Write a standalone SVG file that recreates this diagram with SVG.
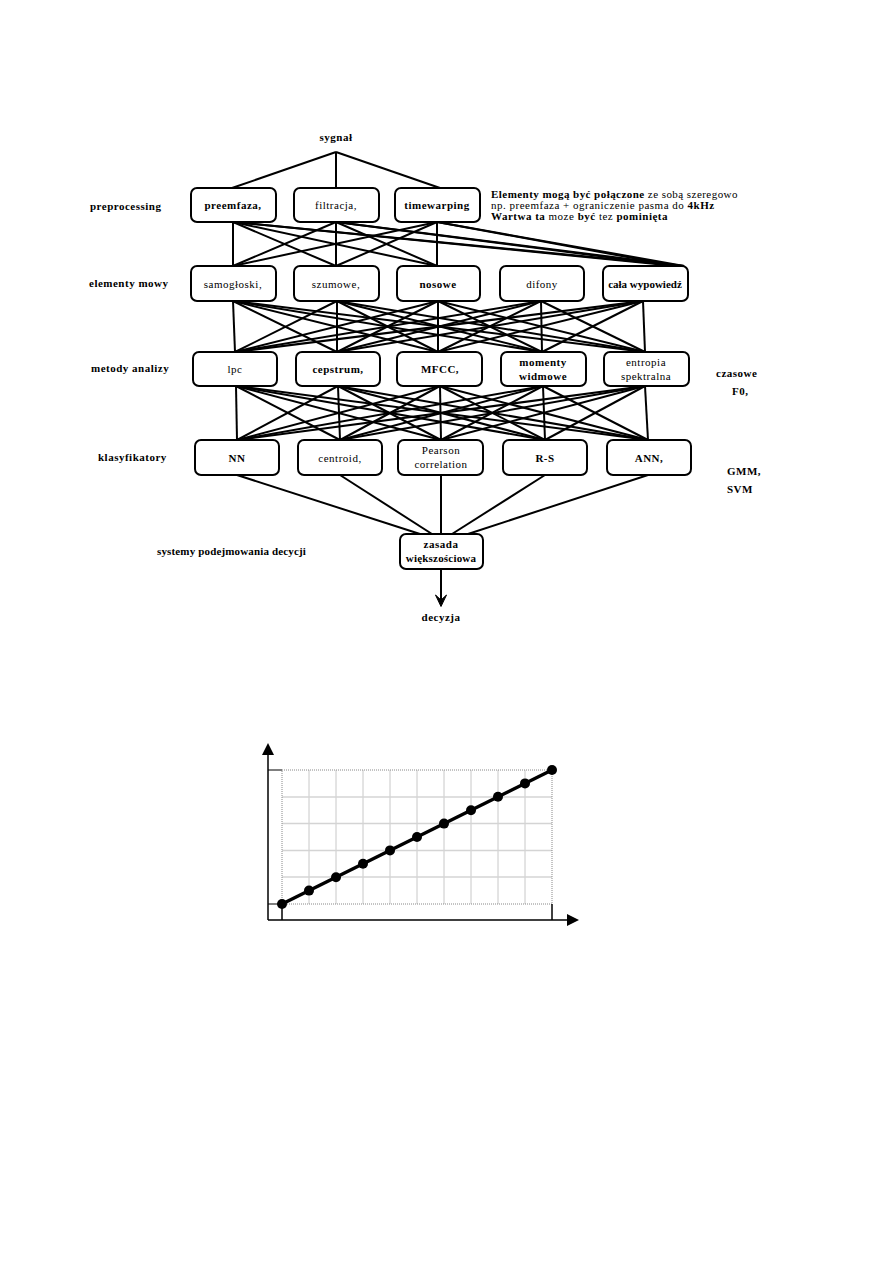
<svg xmlns="http://www.w3.org/2000/svg" width="893" height="1263" viewBox="0 0 893 1263">
<style>
text{font-family:"Liberation Serif","DejaVu Serif",serif;font-size:11px;fill:#000;letter-spacing:0.5px}
.b{font-weight:bold}
.c{text-anchor:middle}
.box{fill:#fff;stroke:#000;stroke-width:2}
.ln{stroke:#000;stroke-width:2;fill:none}
.grid{stroke:#c8c8c8;stroke-width:1}
.gridh{stroke:#d4d4d4;stroke-width:1.5}
</style>
<rect width="893" height="1263" fill="#fff"/>

<g id="connectors" class="ln">
<!-- signal hub -->
<line x1="336" y1="152" x2="232" y2="188"/>
<line x1="336" y1="152" x2="336" y2="188"/>
<line x1="336" y1="152" x2="440" y2="188"/>
<!-- preprocessing to elements -->
<line x1="233" y1="222" x2="233" y2="266"/>
<line x1="233" y1="222" x2="336" y2="266"/>
<line x1="233" y1="222" x2="437" y2="266"/>
<line x1="233" y1="222" x2="676" y2="266"/>
<line x1="233" y1="222" x2="684" y2="266"/>
<line x1="336" y1="222" x2="233" y2="266"/>
<line x1="336" y1="222" x2="336" y2="266"/>
<line x1="336" y1="222" x2="437" y2="266"/>
<line x1="336" y1="222" x2="676" y2="266"/>
<line x1="336" y1="222" x2="684" y2="266"/>
<line x1="437" y1="222" x2="233" y2="266"/>
<line x1="437" y1="222" x2="336" y2="266"/>
<line x1="437" y1="222" x2="437" y2="266"/>
<line x1="437" y1="222" x2="676" y2="266"/>
<line x1="437" y1="222" x2="684" y2="266"/>
<!-- elements to methods -->
<line x1="233" y1="301" x2="235" y2="352"/>
<line x1="233" y1="301" x2="337" y2="352"/>
<line x1="233" y1="301" x2="438" y2="352"/>
<line x1="233" y1="301" x2="542" y2="352"/>
<line x1="233" y1="301" x2="645" y2="352"/>
<line x1="337" y1="301" x2="235" y2="352"/>
<line x1="337" y1="301" x2="337" y2="352"/>
<line x1="337" y1="301" x2="438" y2="352"/>
<line x1="337" y1="301" x2="542" y2="352"/>
<line x1="337" y1="301" x2="645" y2="352"/>
<line x1="438" y1="301" x2="235" y2="352"/>
<line x1="438" y1="301" x2="337" y2="352"/>
<line x1="438" y1="301" x2="438" y2="352"/>
<line x1="438" y1="301" x2="542" y2="352"/>
<line x1="438" y1="301" x2="645" y2="352"/>
<line x1="541" y1="301" x2="235" y2="352"/>
<line x1="541" y1="301" x2="337" y2="352"/>
<line x1="541" y1="301" x2="438" y2="352"/>
<line x1="541" y1="301" x2="542" y2="352"/>
<line x1="541" y1="301" x2="645" y2="352"/>
<line x1="643" y1="301" x2="235" y2="352"/>
<line x1="643" y1="301" x2="337" y2="352"/>
<line x1="643" y1="301" x2="438" y2="352"/>
<line x1="643" y1="301" x2="542" y2="352"/>
<line x1="643" y1="301" x2="645" y2="352"/>
<!-- methods to classifiers -->
<line x1="236" y1="386" x2="237" y2="440"/>
<line x1="236" y1="386" x2="340" y2="440"/>
<line x1="236" y1="386" x2="441" y2="440"/>
<line x1="236" y1="386" x2="545" y2="440"/>
<line x1="236" y1="386" x2="648" y2="440"/>
<line x1="338" y1="386" x2="237" y2="440"/>
<line x1="338" y1="386" x2="340" y2="440"/>
<line x1="338" y1="386" x2="441" y2="440"/>
<line x1="338" y1="386" x2="545" y2="440"/>
<line x1="338" y1="386" x2="648" y2="440"/>
<line x1="440" y1="386" x2="237" y2="440"/>
<line x1="440" y1="386" x2="340" y2="440"/>
<line x1="440" y1="386" x2="441" y2="440"/>
<line x1="440" y1="386" x2="545" y2="440"/>
<line x1="440" y1="386" x2="648" y2="440"/>
<line x1="543" y1="386" x2="237" y2="440"/>
<line x1="543" y1="386" x2="340" y2="440"/>
<line x1="543" y1="386" x2="441" y2="440"/>
<line x1="543" y1="386" x2="545" y2="440"/>
<line x1="543" y1="386" x2="648" y2="440"/>
<line x1="645" y1="386" x2="237" y2="440"/>
<line x1="645" y1="386" x2="340" y2="440"/>
<line x1="645" y1="386" x2="441" y2="440"/>
<line x1="645" y1="386" x2="545" y2="440"/>
<line x1="645" y1="386" x2="648" y2="440"/>
<!-- classifiers to decision -->
<line x1="237" y1="475" x2="420" y2="534"/>
<line x1="340" y1="475" x2="432" y2="534"/>
<line x1="441" y1="475" x2="441" y2="534"/>
<line x1="545" y1="475" x2="452" y2="534"/>
<line x1="648" y1="475" x2="468" y2="534"/>
<line x1="441" y1="569" x2="441" y2="602"/>
<path d="M435.5,595 L441,606.5 L446.5,595 L441,600 Z" fill="#000" stroke="#000" stroke-width="1" stroke-linejoin="miter"/>
</g>

<g id="signal"><text class="b c" x="336" y="141">sygnał</text></g>
<g id="decision-out"><text class="b c" x="441" y="621">decyzja</text></g>

<g id="labels">
<text class="b" x="90" y="210">preprocessing</text>
<text class="b" x="89" y="287">elementy mowy</text>
<text class="b" x="91" y="372">metody analizy</text>
<text class="b" x="98" y="461">klasyfikatory</text>
<text class="b" x="157" y="555" style="letter-spacing:0.15px">systemy podejmowania decycji</text>
<text class="b" x="716" y="377">czasowe</text>
<text class="b" x="732" y="395">F0,</text>
<text class="b" x="727" y="475">GMM,</text>
<text class="b" x="727" y="493">SVM</text>
<text x="491" y="198" style="letter-spacing:0.45px"><tspan class="b">Elementy mogą być połączone</tspan> ze sobą szeregowo</text>
<text x="491" y="209">np. preemfaza + ograniczenie pasma do <tspan class="b">4kHz</tspan></text>
<text x="491" y="220"><tspan class="b">Wartwa ta</tspan> moze <tspan class="b">być</tspan> tez <tspan class="b">pominięta</tspan></text>
</g>

<g id="preemfaza"><rect class="box" x="191" y="188" width="85" height="34" rx="6"/><text class="b c" x="233" y="209">preemfaza,</text></g>
<g id="filtracja"><rect class="box" x="294" y="188" width="85" height="34" rx="6"/><text class="c" x="336" y="209">filtracja,</text></g>
<g id="timewarping"><rect class="box" x="395" y="188" width="85" height="34" rx="6"/><text class="b c" x="437" y="209">timewarping</text></g>

<g id="samogloski"><rect class="box" x="191" y="266" width="85" height="35" rx="6"/><text class="c" x="233" y="288">samogłoski,</text></g>
<g id="szumowe"><rect class="box" x="294" y="266" width="85" height="35" rx="6"/><text class="c" x="336" y="288">szumowe,</text></g>
<g id="nosowe"><rect class="box" x="397" y="266" width="83" height="35" rx="6"/><text class="b c" x="438" y="288">nosowe</text></g>
<g id="difony"><rect class="box" x="500" y="266" width="84" height="35" rx="6"/><text class="c" x="542" y="288">difony</text></g>
<g id="cala"><rect class="box" x="603" y="266" width="85" height="35" rx="6"/><text class="b c" x="645" y="288" style="letter-spacing:0">cała wypowiedź</text></g>

<g id="lpc"><rect class="box" x="193" y="352" width="84" height="34" rx="6"/><text class="c" x="235" y="373">lpc</text></g>
<g id="cepstrum"><rect class="box" x="296" y="352" width="84" height="34" rx="6"/><text class="b c" x="338" y="373">cepstrum,</text></g>
<g id="mfcc"><rect class="box" x="397" y="352" width="85" height="34" rx="6"/><text class="b c" x="440" y="373">MFCC,</text></g>
<g id="momenty"><rect class="box" x="501" y="352" width="85" height="34" rx="6"/><text class="b c" x="543" y="366">momenty</text><text class="b c" x="543" y="380">widmowe</text></g>
<g id="entropia"><rect class="box" x="604" y="352" width="85" height="34" rx="6"/><text class="c" x="646" y="366">entropia</text><text class="c" x="646" y="380">spektralna</text></g>

<g id="nn"><rect class="box" x="195" y="440" width="84" height="35" rx="6"/><text class="b c" x="237" y="462">NN</text></g>
<g id="centroid"><rect class="box" x="298" y="440" width="84" height="35" rx="6"/><text class="c" x="340" y="462">centroid,</text></g>
<g id="pearson"><rect class="box" x="398" y="440" width="85" height="35" rx="6"/><text class="c" x="441" y="454">Pearson</text><text class="c" x="441" y="468">correlation</text></g>
<g id="rs"><rect class="box" x="503" y="440" width="84" height="35" rx="6"/><text class="b c" x="545" y="462">R-S</text></g>
<g id="ann"><rect class="box" x="607" y="440" width="84" height="35" rx="6"/><text class="b c" x="649" y="462">ANN,</text></g>

<g id="zasada"><rect class="box" x="400" y="534" width="83" height="35" rx="6"/><text class="b c" x="441" y="548">zasada</text><text class="b c" x="441" y="562" style="letter-spacing:0.2px">większościowa</text></g>

<g id="chart">
<g class="grid">
<line x1="309" y1="770" x2="309" y2="904"/><line x1="336" y1="770" x2="336" y2="904"/>
<line x1="363" y1="770" x2="363" y2="904"/><line x1="390" y1="770" x2="390" y2="904"/>
<line x1="417" y1="770" x2="417" y2="904"/><line x1="444" y1="770" x2="444" y2="904"/>
<line x1="471" y1="770" x2="471" y2="904"/><line x1="498" y1="770" x2="498" y2="904"/>
<line x1="525" y1="770" x2="525" y2="904"/>
</g>
<g class="gridh">
<line x1="282" y1="797" x2="552" y2="797"/><line x1="282" y1="823.5" x2="552" y2="823.5"/>
<line x1="282" y1="850.5" x2="552" y2="850.5"/><line x1="282" y1="877" x2="552" y2="877"/>
</g>
<rect x="282" y="770" width="270" height="134" fill="none" stroke="#888" stroke-width="1" stroke-dasharray="1,1"/>
<line x1="268" y1="770" x2="282" y2="770" stroke="#555" stroke-width="1.5"/>
<line x1="268" y1="904" x2="282" y2="904" stroke="#555" stroke-width="1.5"/>
<line x1="282" y1="904" x2="282" y2="920" stroke="#000" stroke-width="1.5"/>
<line x1="552" y1="904" x2="552" y2="920" stroke="#000" stroke-width="1.5"/>
<line x1="268" y1="753" x2="268" y2="920" stroke="#000" stroke-width="1.5"/>
<line x1="268" y1="920" x2="568" y2="920" stroke="#000" stroke-width="1.5"/>
<path d="M268,743 L262,755 L274,755 Z" fill="#000"/>
<path d="M579,920 L567,914 L567,926 Z" fill="#000"/>
<line x1="282" y1="904" x2="552" y2="770" stroke="#000" stroke-width="3.5"/>
<g fill="#000">
<circle cx="282" cy="904" r="5"/><circle cx="309" cy="890.6" r="5"/><circle cx="336" cy="877.2" r="5"/>
<circle cx="363" cy="863.8" r="5"/><circle cx="390" cy="850.4" r="5"/><circle cx="417" cy="837" r="5"/>
<circle cx="444" cy="823.6" r="5"/><circle cx="471" cy="810.2" r="5"/><circle cx="498" cy="796.8" r="5"/>
<circle cx="525" cy="783.4" r="5"/><circle cx="552" cy="770" r="5"/>
</g>
</g>
</svg>
